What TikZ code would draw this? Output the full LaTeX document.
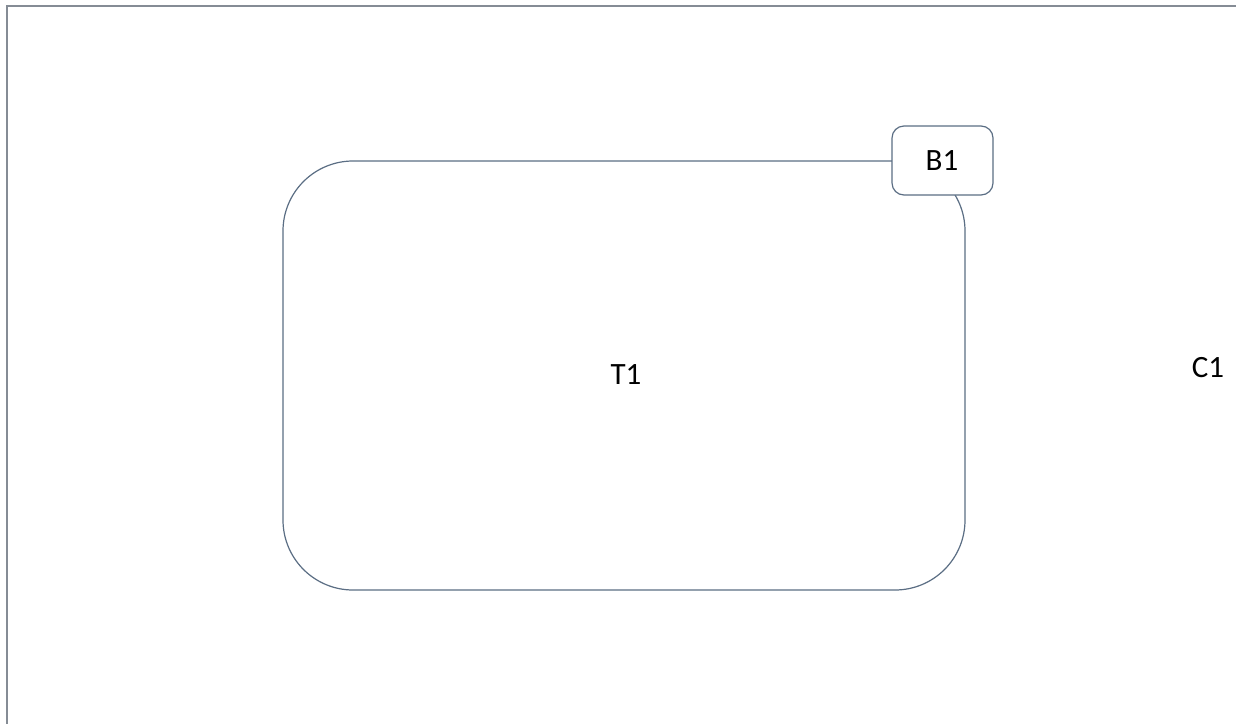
\documentclass[tikz,border=0pt]{standalone}
\usepackage{fontspec}
\setmainfont{Carlito}
\begin{document}
\begin{tikzpicture}[x=1pt,y=-1pt,
  edgeblue/.style={draw=edgecol,line width=1.2pt},
  lbl/.style={font=\fontsize{31}{36}\selectfont,text=black,inner sep=0pt},
  roundbox/.style={edgeblue,rounded corners=#1,fill=white}]
\definecolor{edgecol}{HTML}{5B6E84}
\definecolor{framecol}{HTML}{858C95}
\useasboundingbox (0,0) rectangle (1236,723);
\clip (0,0) rectangle (1236,723);
% outer container, running past the lower and right edges
\draw[draw=framecol,line width=2pt] (7,6) rectangle (1260,760);
% large rounded tank
\node[roundbox=70pt,minimum width=682pt,minimum height=429pt,inner sep=0pt] (t1) at (624,375.5) {};
\node[lbl] (t1label) at (626,375) {T1};
% small box on the upper right corner
\node[roundbox=12pt,minimum width=101pt,minimum height=69pt,inner sep=0pt] (b1) at (942.5,160.5) {};
\node[lbl] (b1label) at (942,161) {B1};
% label of the container
\node[lbl] (c1) at (1208,368) {C1};
\end{tikzpicture}
\end{document}
